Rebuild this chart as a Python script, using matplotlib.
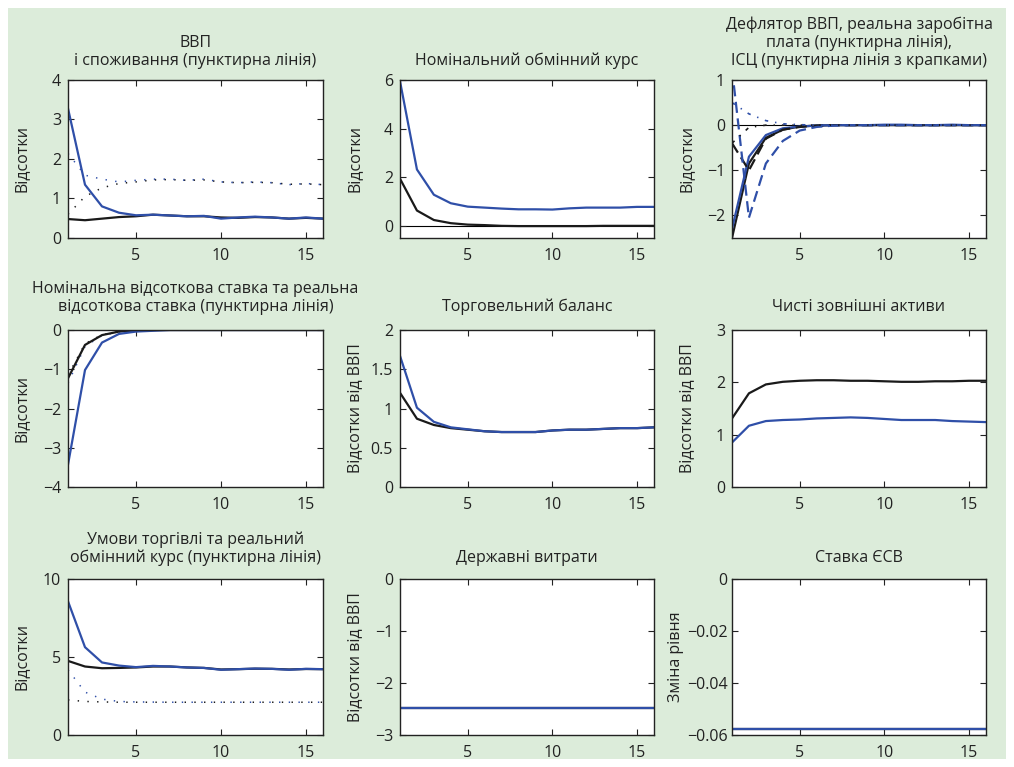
import matplotlib
matplotlib.use("Agg")
import matplotlib.pyplot as plt
from matplotlib.patches import Rectangle
from matplotlib.ticker import FuncFormatter
import numpy as np

plt.rcParams['font.family'] = ['Open Sans', 'DejaVu Sans']
plt.rcParams['lines.scale_dashes'] = False

x = np.arange(1, 17)

# Panel 1: GDP and consumption (dotted)
gdp_black = [0.48, 0.45, 0.49, 0.53, 0.55, 0.59, 0.57, 0.55, 0.55, 0.52, 0.51, 0.53, 0.52, 0.49, 0.51, 0.49]
gdp_blue = [3.28, 1.35, 0.80, 0.64, 0.575, 0.59, 0.57, 0.55, 0.56, 0.49, 0.52, 0.54, 0.52, 0.49, 0.52, 0.49]
cons_black = [0.60, 1.05, 1.27, 1.38, 1.42, 1.47, 1.48, 1.46, 1.47, 1.42, 1.40, 1.41, 1.40, 1.36, 1.37, 1.35]
cons_blue = [2.14, 1.59, 1.49, 1.42, 1.46, 1.49, 1.49, 1.46, 1.49, 1.42, 1.40, 1.42, 1.40, 1.35, 1.38, 1.35]

# Panel 2: nominal exchange rate
ner_black = [1.94, 0.63, 0.24, 0.11, 0.05, 0.03, 0.0, -0.01, -0.01, -0.01, -0.01, -0.01, 0.0, 0.0, 0.0, 0.0]
ner_blue = [5.95, 2.32, 1.28, 0.93, 0.79, 0.75, 0.71, 0.68, 0.68, 0.67, 0.72, 0.75, 0.75, 0.75, 0.78, 0.78]

# Panel 3: GDP deflator (solid), real wage (dashed), CPI (dash-dot)
defl_black = [-2.5, -0.85, -0.28, -0.10, -0.03, -0.01, 0.0, 0.0, 0.0, 0.0, 0.0, 0.0, 0.0, 0.0, 0.0, 0.0]
defl_blue = [-2.3, -0.70, -0.22, -0.07, -0.03, -0.01, 0.0, 0.0, 0.0, 0.01, 0.01, 0.0, 0.0, 0.01, 0.0, 0.0]
wage_black = [-0.40, -1.00, -0.30, -0.10, -0.04, -0.01, 0.0, 0.0, 0.0, 0.0, 0.0, 0.0, 0.0, 0.0, 0.0, 0.0]
wage_blue = [1.25, -2.05, -0.85, -0.35, -0.12, -0.04, -0.01, 0.0, 0.0, 0.0, 0.0, 0.0, 0.0, 0.0, 0.0, 0.0]
cpi_black = [-0.40, -0.05, 0.0, 0.0, 0.0, 0.0, 0.0, 0.0, 0.0, 0.0, 0.0, 0.0, 0.0, 0.0, 0.0, 0.0]
cpi_blue = [0.50, 0.25, 0.10, 0.03, 0.01, 0.0, 0.0, 0.0, 0.0, 0.0, 0.0, 0.0, 0.0, 0.0, 0.0, 0.0]

# Panel 4: nominal interest rate and real interest rate (dotted)
nir_black = [-1.23, -0.38, -0.13, -0.04, -0.01, 0.0, 0.0, 0.0, 0.0, 0.0, 0.0, 0.0, 0.0, 0.0, 0.0, 0.0]
nir_blue = [-3.43, -1.02, -0.32, -0.10, -0.04, -0.02, 0.0, 0.0, 0.0, 0.0, 0.0, 0.0, 0.0, 0.0, 0.0, 0.0]
rir_black = [-1.15, -0.35, -0.12, -0.04, -0.01, 0.0, 0.0, 0.0, 0.0, 0.0, 0.0, 0.0, 0.0, 0.0, 0.0, 0.0]
rir_blue = [-1.35, -0.42, -0.14, -0.05, -0.01, 0.0, 0.0, 0.0, 0.0, 0.0, 0.0, 0.0, 0.0, 0.0, 0.0, 0.0]

# Panel 5: trade balance
tb_black = [1.20, 0.87, 0.79, 0.75, 0.73, 0.71, 0.70, 0.70, 0.70, 0.72, 0.73, 0.73, 0.74, 0.75, 0.75, 0.76]
tb_blue = [1.67, 1.01, 0.83, 0.76, 0.735, 0.71, 0.70, 0.70, 0.70, 0.72, 0.73, 0.73, 0.74, 0.75, 0.75, 0.76]

# Panel 6: net foreign assets
nfa_black = [1.31, 1.79, 1.96, 2.01, 2.03, 2.04, 2.04, 2.03, 2.03, 2.02, 2.01, 2.01, 2.02, 2.02, 2.03, 2.03]
nfa_blue = [0.85, 1.17, 1.26, 1.28, 1.29, 1.31, 1.32, 1.33, 1.32, 1.30, 1.28, 1.28, 1.28, 1.26, 1.25, 1.24]

# Panel 7: terms of trade and real exchange rate (dotted)
tot_black = [4.75, 4.39, 4.28, 4.30, 4.33, 4.39, 4.39, 4.33, 4.30, 4.20, 4.22, 4.25, 4.24, 4.20, 4.23, 4.22]
tot_blue = [8.57, 5.63, 4.65, 4.45, 4.35, 4.43, 4.39, 4.33, 4.30, 4.18, 4.22, 4.26, 4.24, 4.18, 4.24, 4.22]
rer_black = [2.25, 2.15, 2.12, 2.10, 2.10, 2.10, 2.10, 2.10, 2.10, 2.10, 2.10, 2.10, 2.10, 2.10, 2.10, 2.10]
rer_blue = [4.18, 2.75, 2.30, 2.15, 2.12, 2.11, 2.10, 2.10, 2.10, 2.10, 2.10, 2.10, 2.10, 2.10, 2.10, 2.10]

# Panel 8: government spending
gov_black = [-2.475] * 16
gov_blue = [-2.48] * 16

# Panel 9: social contribution rate
esv_black = [-0.0576] * 16
esv_blue = [-0.0577] * 16

titles = [
    "ВВП\nі споживання (пунктирна лінія)",
    "Номінальний обмінний курс",
    "Дефлятор ВВП, реальна заробітна\nплата (пунктирна лінія),\nІСЦ (пунктирна лінія з крапками)",
    "Номінальна відсоткова ставка та реальна\nвідсоткова ставка (пунктирна лінія)",
    "Торговельний баланс",
    "Чисті зовнішні активи",
    "Умови торгівлі та реальний\nобмінний курс (пунктирна лінія)",
    "Державні витрати",
    "Ставка ЄСВ",
]
ylabels = ["Відсотки", "Відсотки", "Відсотки",
           "Відсотки", "Відсотки від ВВП", "Відсотки від ВВП",
           "Відсотки", "Відсотки від ВВП", "Зміна рівня"]
ylims = [(0, 4), (-0.5, 6), (-2.5, 1), (-4, 0), (0, 2), (0, 3), (0, 10), (-3, 0), (-0.06, 0)]
yticks = [[0, 1, 2, 3, 4], [0, 2, 4, 6], [-2, -1, 0, 1], [-4, -3, -2, -1, 0],
          [0, 0.5, 1, 1.5, 2], [0, 1, 2, 3], [0, 5, 10], [-3, -2, -1, 0],
          [-0.06, -0.04, -0.02, 0]]
xticks = [5, 10, 15]

BLACK = '#1a1a1a'
BLUE = '#2f4fa8'
DOT = (0, (1.0, 6.0))
DASH = (0, (8.0, 4.0))
DASHDOT = (0, (2.5, 5.0, 1.0, 5.0))

W, H = 1014, 767
fig = plt.figure(figsize=(W / 100, H / 100), dpi=100)
fig.patch.set_facecolor('white')

bg = fig.add_axes([0, 0, 1, 1], zorder=-10)
bg.set_xlim(0, W)
bg.set_ylim(H, 0)
bg.axis('off')
bg.add_patch(Rectangle((8, 8), 1006 - 8, 759 - 8, facecolor='#dcecda', edgecolor='none'))

cols = [(68, 323), (400, 654), (732, 986)]
rows = [(80, 238), (330, 487), (579, 735)]
title_pads = [11, 14, 12]

def fmt(v, pos):
    s = ('%g' % v)
    return s.replace('-', '\u2212')

axes = []
for r, (t, b) in enumerate(rows):
    for c, (l, rr) in enumerate(cols):
        ax = fig.add_axes([l / W, 1 - b / H, (rr - l) / W, (b - t) / H])
        axes.append(ax)

series = [
    [(gdp_black, BLACK, '-'), (gdp_blue, BLUE, '-'), (cons_black, BLACK, DOT), (cons_blue, BLUE, DOT)],
    [(ner_black, BLACK, '-'), (ner_blue, BLUE, '-')],
    [(defl_black, BLACK, '-'), (defl_blue, BLUE, '-'), (wage_black, BLACK, DASH), (wage_blue, BLUE, DASH),
     (cpi_black, BLACK, DASHDOT), (cpi_blue, BLUE, DASHDOT)],
    [(rir_black, BLACK, DOT), (rir_blue, BLUE, DOT), (nir_black, BLACK, '-'), (nir_blue, BLUE, '-')],
    [(tb_black, BLACK, '-'), (tb_blue, BLUE, '-')],
    [(nfa_black, BLACK, '-'), (nfa_blue, BLUE, '-')],
    [(tot_black, BLACK, '-'), (tot_blue, BLUE, '-'), (rer_black, BLACK, DOT), (rer_blue, BLUE, DOT)],
    [(gov_black, BLACK, '-'), (gov_blue, BLUE, '-')],
    [(esv_black, BLACK, '-'), (esv_blue, BLUE, '-')],
]
label_x = [-0.149, -0.146, -0.146, -0.149, -0.146, -0.146, -0.149, -0.146, -0.19]

for i, ax in enumerate(axes):
    ax.set_facecolor('white')
    if i in (1, 2):
        ax.axhline(0, color='black', lw=0.8, zorder=1)
    for vals, col, ls in series[i]:
        if ls == DOT:
            lw = 1.1
        elif ls == DASHDOT:
            lw = 1.2
        else:
            lw = 1.6
        ax.plot(x, vals, color=col, linestyle=ls, lw=lw, zorder=2)
    ax.set_xlim(1, 16)
    ax.set_ylim(*ylims[i])
    ax.set_xticks(xticks)
    ax.set_yticks(yticks[i])
    ax.yaxis.set_major_formatter(FuncFormatter(fmt))
    ax.tick_params(direction='in', length=4, width=0.8, top=True, right=True,
                   labelsize=11.5, colors='#222222')
    ax.tick_params(axis='x', pad=7)
    ax.tick_params(axis='y', pad=5 if i != 8 else 3)
    for sp in ax.spines.values():
        sp.set_linewidth(1.0)
        sp.set_color('#222222')
    ax.set_title(titles[i], fontsize=11.5, color='#222222', pad=title_pads[i // 3], linespacing=1.15)
    ax.set_ylabel(ylabels[i], fontsize=11.5, color='#222222')
    ax.yaxis.set_label_coords(label_x[i], 0.5)

fig.savefig('out.png', dpi=100, facecolor='white')
